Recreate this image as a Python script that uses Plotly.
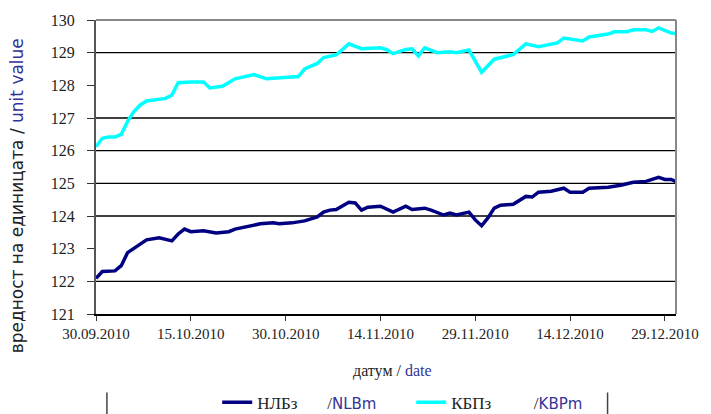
import plotly.graph_objects as go

# ---- data ----
kbp_dates = ["2010-09-30", "2010-10-01", "2010-10-02", "2010-10-03", "2010-10-04", "2010-10-05",
             "2010-10-06", "2010-10-07", "2010-10-08", "2010-10-10", "2010-10-11", "2010-10-12",
             "2010-10-13", "2010-10-15", "2010-10-17", "2010-10-18", "2010-10-20", "2010-10-22",
             "2010-10-25", "2010-10-27", "2010-10-29", "2010-11-01", "2010-11-02", "2010-11-04",
             "2010-11-05", "2010-11-07", "2010-11-09", "2010-11-11", "2010-11-14", "2010-11-15",
             "2010-11-16", "2010-11-18", "2010-11-19", "2010-11-20", "2010-11-21", "2010-11-23",
             "2010-11-25", "2010-11-26", "2010-11-28", "2010-11-30", "2010-12-02", "2010-12-03",
             "2010-12-05", "2010-12-07", "2010-12-09", "2010-12-12", "2010-12-13", "2010-12-16",
             "2010-12-17", "2010-12-20", "2010-12-21", "2010-12-23", "2010-12-24", "2010-12-26",
             "2010-12-27", "2010-12-28", "2010-12-30", "2010-12-31"]
kbp_values = [126.12, 126.38, 126.42, 126.42, 126.5, 126.9,
              127.2, 127.4, 127.52, 127.56, 127.6, 127.7,
              128.08, 128.1, 128.1, 127.92, 127.97, 128.2,
              128.33, 128.2, 128.22, 128.27, 128.5, 128.67,
              128.85, 128.93, 129.27, 129.12, 129.15, 129.09,
              128.97, 129.1, 129.12, 128.9, 129.15, 129.0,
              129.03, 129.0, 129.08, 128.4, 128.8, 128.85,
              128.94, 129.27, 129.18, 129.3, 129.45, 129.36,
              129.48, 129.57, 129.64, 129.64, 129.7, 129.7,
              129.65, 129.76, 129.6, 129.58]

nlb_dates = ["2010-09-30", "2010-10-01", "2010-10-03", "2010-10-04", "2010-10-05", "2010-10-06",
             "2010-10-07", "2010-10-08", "2010-10-10", "2010-10-12", "2010-10-13", "2010-10-14",
             "2010-10-15", "2010-10-17", "2010-10-19", "2010-10-21", "2010-10-22", "2010-10-24",
             "2010-10-26", "2010-10-28", "2010-10-29", "2010-10-31", "2010-11-02", "2010-11-04",
             "2010-11-05", "2010-11-06", "2010-11-07", "2010-11-09", "2010-11-10", "2010-11-11",
             "2010-11-12", "2010-11-14", "2010-11-16", "2010-11-18", "2010-11-19", "2010-11-21",
             "2010-11-22", "2010-11-24", "2010-11-25", "2010-11-26", "2010-11-28", "2010-11-29",
             "2010-11-30", "2010-12-01", "2010-12-02", "2010-12-03", "2010-12-05", "2010-12-07",
             "2010-12-08", "2010-12-09", "2010-12-11", "2010-12-13", "2010-12-14", "2010-12-16",
             "2010-12-17", "2010-12-20", "2010-12-22", "2010-12-24", "2010-12-26", "2010-12-28",
             "2010-12-29", "2010-12-30", "2010-12-31"]
nlb_values = [122.09, 122.3, 122.32, 122.48, 122.88, 123.0,
              123.12, 123.27, 123.33, 123.24, 123.45, 123.6,
              123.52, 123.55, 123.48, 123.52, 123.6, 123.67,
              123.76, 123.79, 123.76, 123.79, 123.85, 123.97,
              124.12, 124.18, 124.2, 124.42, 124.4, 124.18,
              124.27, 124.3, 124.12, 124.3, 124.2, 124.24,
              124.18, 124.03, 124.09, 124.03, 124.12, 123.88,
              123.7, 123.94, 124.24, 124.33, 124.36, 124.6,
              124.58, 124.73, 124.76, 124.85, 124.73, 124.73,
              124.85, 124.88, 124.94, 125.03, 125.06, 125.18,
              125.12, 125.12, 125.03]

y_ticks = [121, 122, 123, 124, 125, 126, 127, 128, 129, 130]
grid_values = [122, 124, 125, 126, 127, 129]

BLUE_TXT = "#333399"
SERIF = "Liberation Serif"
SANS = "DejaVu Sans"


def en_part(txt):
    return "<span style='color:%s;font-family:%s;font-size:15px'>%s</span>" % (BLUE_TXT, SANS, txt)


fig = go.Figure()
fig.add_trace(go.Scatter(
    x=nlb_dates, y=nlb_values, mode="lines",
    name="НЛБз" + "&nbsp;" * 7 + "/" + en_part("NLBm"),
    line=dict(color="#000080", width=3.5)))
fig.add_trace(go.Scatter(
    x=kbp_dates, y=kbp_values, mode="lines",
    name="КБПз" + "&nbsp;" * 10 + "/" + en_part("KBPm"),
    line=dict(color="#00FFFF", width=3.5)))

shapes = []
for g in grid_values:
    shapes.append(dict(type="line", xref="paper", yref="y", x0=0, x1=1, y0=g, y1=g,
                       line=dict(color="black", width=1.3), layer="below"))
# top and right plot-area border
shapes.append(dict(type="line", xref="paper", yref="paper", x0=0, x1=1, y0=1, y1=1,
                   line=dict(color="#888888", width=2)))
shapes.append(dict(type="line", xref="paper", yref="paper", x0=1, x1=1, y0=0, y1=1,
                   line=dict(color="#888888", width=2)))
# legend box sides
for xp in [0.0188, 0.882]:
    shapes.append(dict(type="line", xref="paper", yref="paper", x0=xp, x1=xp, y0=-0.267, y1=-0.345,
                       line=dict(color="#444444", width=1.5)))

fig.update_layout(
    width=711, height=414,
    margin=dict(l=96, r=30, t=18, b=100),
    paper_bgcolor="white", plot_bgcolor="white",
    showlegend=True,
    legend=dict(orientation="h", xref="container", yref="container",
                x=0.3055, y=0.027, xanchor="left", yanchor="middle",
                font=dict(family=SERIF, size=17, color="#222222"),
                bgcolor="rgba(0,0,0,0)", entrywidth=149, tracegroupgap=0),
    shapes=shapes,
    xaxis=dict(type="date", range=["2010-09-30", "2010-12-30 18:00"],
               tick0="2010-09-30", dtick=15 * 86400000, tickformat="%d.%m.%Y",
               ticks="outside", ticklen=5, tickcolor="#333333",
               showline=True, linecolor="black", linewidth=1.5,
               showgrid=False, zeroline=False,
               tickfont=dict(family=SERIF, size=15, color="#222222")),
    yaxis=dict(range=[121, 130], tickvals=y_ticks,
               ticks="outside", ticklen=7, tickcolor="#333333",
               showline=True, linecolor="#555555", linewidth=2,
               showgrid=False, zeroline=False, ticklabelstandoff=9,
               tickfont=dict(family=SERIF, size=16, color="#222222")),
    annotations=[
        dict(text="вредност на единицата / <span style='color:%s'>unit value</span>" % BLUE_TXT,
             xref="paper", yref="paper", x=-0.137, y=0.402, xanchor="center", yanchor="middle",
             textangle=-90, showarrow=False,
             font=dict(family=SANS, size=17, color="#222222")),
        dict(text="датум / <span style='color:%s'>date</span>" % BLUE_TXT,
             xref="paper", yref="paper", x=0.511, y=-0.193, xanchor="center", yanchor="middle",
             showarrow=False, font=dict(family=SERIF, size=16, color="#222222")),
    ],
)

fig.write_html("out.html", config={"displayModeBar": False},
               post_script="document.body.style.margin='0px';")
